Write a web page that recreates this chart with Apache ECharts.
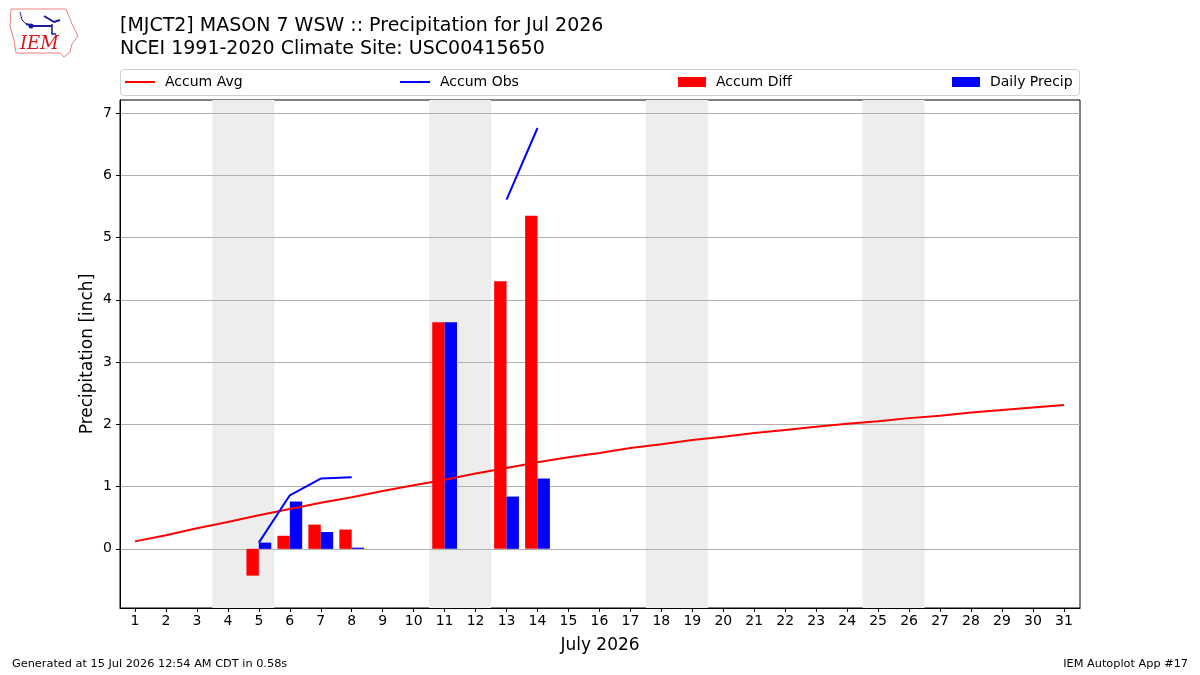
<!DOCTYPE html>
<html>
<head>
<meta charset="utf-8">
<script src="https://cdn.jsdelivr.net/npm/echarts@6/dist/echarts.min.js"></script>
<style>
  html, body { margin: 0; padding: 0; background: #fff; }
  #main { width: 1200px; height: 675px; }
</style>
</head>
<body>
<div id="main"></div>
<script>
// day numbers of July 2026
var days = [];
for (var d = 1; d <= 31; d++) days.push(d);

// climatology accumulated precip (inch)
var accumAvg = [0.12, 0.22, 0.33, 0.43, 0.54, 0.64, 0.74, 0.83, 0.93, 1.02,
  1.11, 1.21, 1.30, 1.39, 1.47, 1.54, 1.62, 1.68, 1.75, 1.80,
  1.86, 1.91, 1.96, 2.01, 2.05, 2.10, 2.14, 2.19, 2.23, 2.27, 2.31];

// observed accumulation, null where missing
var accumObs = [null, null, null, null, 0.10, 0.86, 1.13, 1.15, null, null,
  null, null, 5.61, 6.76];

// bars: day / value pairs
var diffDays = [5, 6, 7, 8, 11, 13, 14];
var accumDiff = [-0.43, 0.21, 0.39, 0.31, 3.64, 4.30, 5.35];
var precipDays = [5, 6, 7, 8, 11, 13, 14];
var dailyPrecip = [0.10, 0.76, 0.27, 0.02, 3.64, 0.84, 1.13];

// weekends shaded
var weekends = [[3.5, 5.5], [10.5, 12.5], [17.5, 19.5], [24.5, 26.5]];

var yTicks = [0, 1, 2, 3, 4, 5, 6, 7];

var font = 'DejaVu Sans';

function barItem(offA, offB) {
  return function (params, api) {
    var x = api.value(0), y = api.value(1);
    var p0 = api.coord([x + offA, 0]);
    var p1 = api.coord([x + offB, y]);
    return {
      type: 'rect',
      shape: {
        x: p0[0], y: Math.min(p0[1], p1[1]),
        width: p1[0] - p0[0], height: Math.abs(p1[1] - p0[1])
      },
      style: api.style()
    };
  };
}

var legendText = { fontFamily: font, fontSize: 14, color: '#000', padding: [0, 0, 0, 5] };

var chart = echarts.init(document.getElementById('main'));

var option = {
  animation: false,
  backgroundColor: '#fff',
  textStyle: { fontFamily: font },
  title: {
    text: '[MJCT2] MASON 7 WSW :: Precipitation for Jul 2026\nNCEI 1991-2020 Climate Site: USC00415650',
    left: 115, top: 10,
    textStyle: { fontFamily: font, fontSize: 19, fontWeight: 'normal', color: '#000', lineHeight: 23 }
  },
  legend: [
    { data: ['Accum Avg'], left: 120, top: 70, icon: 'rect', itemWidth: 30, itemHeight: 2, textStyle: legendText },
    { data: ['Accum Obs'], left: 395, top: 70, icon: 'rect', itemWidth: 30, itemHeight: 2, textStyle: legendText },
    { data: ['Accum Diff'], left: 673, top: 70, icon: 'rect', itemWidth: 28, itemHeight: 10, textStyle: legendText },
    { data: ['Daily Precip'], left: 947, top: 70, icon: 'rect', itemWidth: 28, itemHeight: 10, textStyle: legendText }
  ],
  grid: {
    left: 120, right: 120, top: 100, bottom: 67,
    show: true, borderColor: '#000', borderWidth: 1, backgroundColor: 'transparent'
  },
  xAxis: {
    type: 'value',
    min: 0.516, max: 31.52,
    name: 'July 2026', nameLocation: 'middle', nameGap: 29, nameMoveOverlap: false,
    nameTextStyle: { fontFamily: font, fontSize: 17, color: '#000' },
    axisLine: { show: true, onZero: false, lineStyle: { color: '#000' } },
    axisTick: { show: true, customValues: days, length: 4, lineStyle: { color: '#000' } },
    axisLabel: { customValues: days, fontSize: 14, color: '#000', margin: 6, fontFamily: font },
    splitLine: { show: false }
  },
  yAxis: {
    type: 'value',
    min: -0.95, max: 7.21,
    z: 3,
    name: 'Precipitation [inch]', nameLocation: 'middle', nameGap: 24, nameMoveOverlap: false,
    nameTextStyle: { fontFamily: font, fontSize: 17, color: '#000' },
    axisLine: { show: true, onZero: false, lineStyle: { color: '#000' } },
    axisTick: { show: true, customValues: yTicks, length: 4, lineStyle: { color: '#000' } },
    axisLabel: { customValues: yTicks, fontSize: 14, color: '#000', margin: 8, fontFamily: font },
    splitLine: { show: true, lineStyle: { color: '#b0b0b0', width: 1 } }
  },
  series: [
    {
      name: 'weekends', type: 'line', data: [], z: 1, silent: true,
      markArea: {
        silent: true,
        itemStyle: { color: '#ededed' },
        data: weekends.map(function (w) { return [{ xAxis: w[0] }, { xAxis: w[1] }]; })
      }
    },
    {
      name: 'Accum Diff', type: 'custom', z: 4,
      itemStyle: { color: '#ff0000' },
      encode: { x: 0, y: 1 },
      renderItem: barItem(-0.4, 0),
      data: diffDays.map(function (d, i) { return [d, accumDiff[i]]; })
    },
    {
      name: 'Daily Precip', type: 'custom', z: 4,
      itemStyle: { color: '#0000ff' },
      encode: { x: 0, y: 1 },
      renderItem: barItem(0, 0.4),
      data: precipDays.map(function (d, i) { return [d, dailyPrecip[i]]; })
    },
    {
      name: 'Accum Avg', type: 'line', z: 5, symbol: 'none',
      lineStyle: { color: '#ff0000', width: 2 }, itemStyle: { color: '#ff0000' },
      data: days.map(function (d, i) { return [d, accumAvg[i]]; })
    },
    {
      name: 'Accum Obs', type: 'line', z: 5, symbol: 'none', connectNulls: false,
      lineStyle: { color: '#0000ff', width: 2 }, itemStyle: { color: '#0000ff' },
      data: accumObs.map(function (v, i) { return [days[i], v == null ? '-' : v]; })
    }
  ],
  graphic: [
    { type: 'rect', shape: { x: 120.5, y: 69.5, width: 959, height: 26, r: 3 },
      style: { fill: '#fff', stroke: '#d0d0d0', lineWidth: 1 }, z: -1 },
    // IEM logo (rough)
    { type: 'polyline', shape: { points: [[11, 9], [66, 9], [68, 14], [72, 24], [78, 36], [72, 44], [70, 52], [64, 57], [60, 53], [16, 53], [14, 40], [10, 26], [11, 9]] },
      style: { stroke: '#e88080', fill: 'none', lineWidth: 1 } },
    { type: 'polyline', shape: { points: [[26, 24], [34, 26], [52, 26]] }, style: { stroke: '#1a1aa0', lineWidth: 2, fill: 'none' } },
    { type: 'polyline', shape: { points: [[44, 16], [54, 22], [60, 20]] }, style: { stroke: '#1a1aa0', lineWidth: 2, fill: 'none' } },
    { type: 'polyline', shape: { points: [[20, 12], [22, 20], [26, 24]] }, style: { stroke: '#1a1aa0', lineWidth: 1, fill: 'none' } },
    { type: 'circle', shape: { cx: 31, cy: 26, r: 2.5 }, style: { fill: '#1a1aa0' } },
    { type: 'polyline', shape: { points: [[52, 24], [52, 34], [56, 34]] }, style: { stroke: '#1a1aa0', lineWidth: 1.5, fill: 'none' } },
    { type: 'text', left: 20, top: 35,
      style: { text: 'IEM', font: 'italic 18px "DejaVu Serif", "Liberation Serif", serif', fill: '#d81818' } },
    // footer
    { type: 'text', left: 12, top: 659,
      style: { text: 'Generated at 15 Jul 2026 12:54 AM CDT in 0.58s', font: '11.3px "DejaVu Sans"', fill: '#000' } },
    { type: 'text', right: 12, top: 659,
      style: { text: 'IEM Autoplot App #17', font: '11.3px "DejaVu Sans"', fill: '#000' } }
  ]
};

chart.setOption(option);
</script>
</body>
</html>
